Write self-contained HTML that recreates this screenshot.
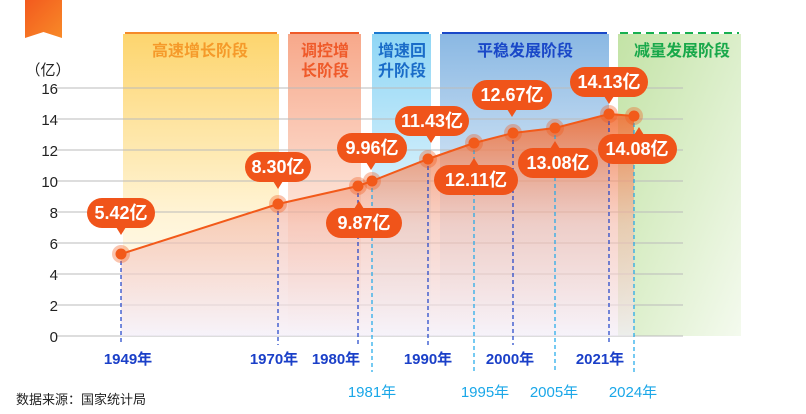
<!DOCTYPE html>
<html><head><meta charset="utf-8"><style>
body{margin:0;background:#fff;}
svg{display:block;font-family:"Liberation Sans","Noto Sans CJK SC",sans-serif;}
.bt{fill:#fff;font-size:18px;font-weight:bold;text-anchor:middle;}
.yl{font-size:15px;fill:#222;text-anchor:end;}
.x1{font-size:15px;fill:#1a3fc8;font-weight:bold;text-anchor:middle;}
.x2{font-size:15px;fill:#1aa7e8;text-anchor:middle;}
</style></head><body>
<svg width="806" height="414" viewBox="0 0 806 414">
<defs>
<linearGradient id="gy" x1="0" y1="0" x2="0" y2="1"><stop offset="0" stop-color="#fdd56e"/><stop offset="0.6" stop-color="#fff4d6"/><stop offset="1" stop-color="#fff"/></linearGradient>
<linearGradient id="gs" x1="0" y1="0" x2="0" y2="1"><stop offset="0" stop-color="#f7a88a"/><stop offset="0.6" stop-color="#fde5da"/><stop offset="1" stop-color="#fff"/></linearGradient>
<linearGradient id="gl" x1="0" y1="0" x2="0" y2="1"><stop offset="0" stop-color="#8fd6f5"/><stop offset="0.6" stop-color="#e3f5fd"/><stop offset="1" stop-color="#fff"/></linearGradient>
<linearGradient id="gb" x1="0" y1="0" x2="0" y2="1"><stop offset="0" stop-color="#8ab8e3"/><stop offset="0.6" stop-color="#e2eef9"/><stop offset="1" stop-color="#fff"/></linearGradient>
<linearGradient id="gg" x1="0" y1="0" x2="1" y2="1"><stop offset="0" stop-color="#c3e3a6"/><stop offset="1" stop-color="#f4faee"/></linearGradient>
<linearGradient id="ga" x1="0" y1="0" x2="0" y2="1"><stop offset="0" stop-color="#f26a2e" stop-opacity="0.85"/><stop offset="0.5" stop-color="#f4b8a8" stop-opacity="0.6"/><stop offset="1" stop-color="#f3eef8" stop-opacity="0.7"/></linearGradient>
<linearGradient id="gr" x1="0" y1="0" x2="1" y2="1"><stop offset="0" stop-color="#f35a1e"/><stop offset="1" stop-color="#f88a28"/></linearGradient>
</defs>
<path d="M25 0H62V38L43.5 32L25 38Z" fill="url(#gr)"/>
<rect x="123" y="34" width="156" height="302" fill="url(#gy)"/>
<rect x="288" y="34" width="73" height="302" fill="url(#gs)"/>
<rect x="372" y="34" width="59" height="302" fill="url(#gl)"/>
<rect x="440" y="34" width="169" height="302" fill="url(#gb)"/>
<rect x="618" y="34" width="123" height="302" fill="url(#gg)"/>
<g stroke-width="2">
<line x1="125" y1="33" x2="277" y2="33" stroke="#f58a2a"/>
<line x1="290" y1="33" x2="359" y2="33" stroke="#ef5a2a"/>
<line x1="374" y1="33" x2="429" y2="33" stroke="#1a78d0"/>
<line x1="442" y1="33" x2="607" y2="33" stroke="#1a48c8"/>
<line x1="620" y1="33" x2="739" y2="33" stroke="#18b050" stroke-dasharray="8,5"/>
</g>
<g font-size="16" font-weight="bold" text-anchor="middle">
<text x="200" y="56" fill="#f59a2a">高速增长阶段</text>
<text x="325" y="56" fill="#ef5a2a">调控增</text><text x="325" y="76" fill="#ef5a2a">长阶段</text>
<text x="402" y="56" fill="#1a6cc8">增速回</text><text x="402" y="76" fill="#1a6cc8">升阶段</text>
<text x="525" y="56" fill="#1a48c8">平稳发展阶段</text>
<text x="682" y="56" fill="#18a84a">减量发展阶段</text>
</g>
<text x="48" y="75" font-size="15" fill="#222" text-anchor="middle">（亿）</text>
<g stroke="#bbb" stroke-width="1">
<line x1="57" y1="88" x2="683" y2="88"/><line x1="57" y1="119" x2="683" y2="119"/><line x1="57" y1="150" x2="683" y2="150"/><line x1="57" y1="181" x2="683" y2="181"/><line x1="57" y1="212" x2="683" y2="212"/><line x1="57" y1="243" x2="683" y2="243"/><line x1="57" y1="274" x2="683" y2="274"/><line x1="57" y1="305" x2="683" y2="305"/><line x1="57" y1="336" x2="683" y2="336"/>
</g>
<g class="yl"><text x="58" y="94" class="yl">16</text><text x="58" y="125" class="yl">14</text><text x="58" y="156" class="yl">12</text><text x="58" y="187" class="yl">10</text><text x="58" y="218" class="yl">8</text><text x="58" y="249" class="yl">6</text><text x="58" y="280" class="yl">4</text><text x="58" y="311" class="yl">2</text><text x="58" y="342" class="yl">0</text></g>
<path d="M121 254L278 204L358 186L372 181L428 159L474 143L513 133L555 128L609 114L634 116V336H121Z" fill="url(#ga)"/>
<polyline points="121,254 278,204 358,186 372,181 428,159 474,143 513,133 555,128 609,114 634,116" fill="none" stroke="#f25a1a" stroke-width="2"/>
<g stroke-width="1.2" stroke-dasharray="4,3">
<line x1="121" y1="254" x2="121" y2="345" stroke="#1a3fc8"/>
<line x1="278" y1="204" x2="278" y2="345" stroke="#1a3fc8"/>
<line x1="358" y1="186" x2="358" y2="345" stroke="#1a3fc8"/>
<line x1="372" y1="181" x2="372" y2="372" stroke="#1aa7e8"/>
<line x1="428" y1="159" x2="428" y2="345" stroke="#1a3fc8"/>
<line x1="474" y1="143" x2="474" y2="372" stroke="#1aa7e8"/>
<line x1="513" y1="133" x2="513" y2="345" stroke="#1a3fc8"/>
<line x1="555" y1="128" x2="555" y2="372" stroke="#1aa7e8"/>
<line x1="609" y1="114" x2="609" y2="345" stroke="#1a3fc8"/>
<line x1="634" y1="116" x2="634" y2="372" stroke="#1aa7e8"/>
</g>
<g fill="#f25a1a">
<g fill-opacity="0.35"><circle cx="121" cy="254" r="9"/><circle cx="278" cy="204" r="9"/><circle cx="358" cy="186" r="9"/><circle cx="372" cy="181" r="9"/><circle cx="428" cy="159" r="9"/><circle cx="474" cy="143" r="9"/><circle cx="513" cy="133" r="9"/><circle cx="555" cy="128" r="9"/><circle cx="609" cy="114" r="9"/><circle cx="634" cy="116" r="9"/></g>
<circle cx="121" cy="254" r="5.5"/><circle cx="278" cy="204" r="5.5"/><circle cx="358" cy="186" r="5.5"/><circle cx="372" cy="181" r="5.5"/><circle cx="428" cy="159" r="5.5"/><circle cx="474" cy="143" r="5.5"/><circle cx="513" cy="133" r="5.5"/><circle cx="555" cy="128" r="5.5"/><circle cx="609" cy="114" r="5.5"/><circle cx="634" cy="116" r="5.5"/>
</g>
<g fill="#f0541a">
<rect x="87" y="198" width="68" height="30" rx="15"/><path d="M116 227L121 235L126 227Z"/>
<rect x="245" y="152" width="66" height="30" rx="15"/><path d="M273 181L278 189L283 181Z"/>
<rect x="326" y="208" width="76" height="30" rx="15"/><path d="M354 209L359 201L364 209Z"/>
<rect x="337" y="133" width="70" height="30" rx="15"/><path d="M366 162L371 170L376 162Z"/>
<rect x="395" y="106" width="74" height="30" rx="15"/><path d="M426 135L431 143L436 135Z"/>
<rect x="472" y="80" width="80" height="30" rx="15"/><path d="M507 109L512 117L517 109Z"/>
<rect x="434" y="165" width="84" height="30" rx="15"/><path d="M469 166L474 158L479 166Z"/>
<rect x="518" y="148" width="80" height="30" rx="15"/><path d="M550 149L555 141L560 149Z"/>
<rect x="570" y="67" width="78" height="30" rx="15"/><path d="M604 96L609 104L614 96Z"/>
<rect x="598" y="134" width="79" height="30" rx="15"/><path d="M634 135L639 127L644 135Z"/>
</g>
<g class="bt">
<text x="121" y="219" class="bt">5.42亿</text>
<text x="278" y="173" class="bt">8.30亿</text>
<text x="364" y="229" class="bt">9.87亿</text>
<text x="372" y="154" class="bt">9.96亿</text>
<text x="432" y="127" class="bt">11.43亿</text>
<text x="512" y="101" class="bt">12.67亿</text>
<text x="476" y="186" class="bt">12.11亿</text>
<text x="558" y="169" class="bt">13.08亿</text>
<text x="609" y="88" class="bt">14.13亿</text>
<text x="637" y="155" class="bt">14.08亿</text>
</g>
<g>
<text x="128" y="364" class="x1">1949年</text>
<text x="274" y="364" class="x1">1970年</text>
<text x="336" y="364" class="x1">1980年</text>
<text x="428" y="364" class="x1">1990年</text>
<text x="510" y="364" class="x1">2000年</text>
<text x="600" y="364" class="x1">2021年</text>
<text x="372" y="397" class="x2">1981年</text>
<text x="485" y="397" class="x2">1995年</text>
<text x="554" y="397" class="x2">2005年</text>
<text x="633" y="397" class="x2">2024年</text>
</g>
<text x="16" y="404" font-size="13" fill="#222">数据来源：国家统计局</text>
</svg>
</body></html>
